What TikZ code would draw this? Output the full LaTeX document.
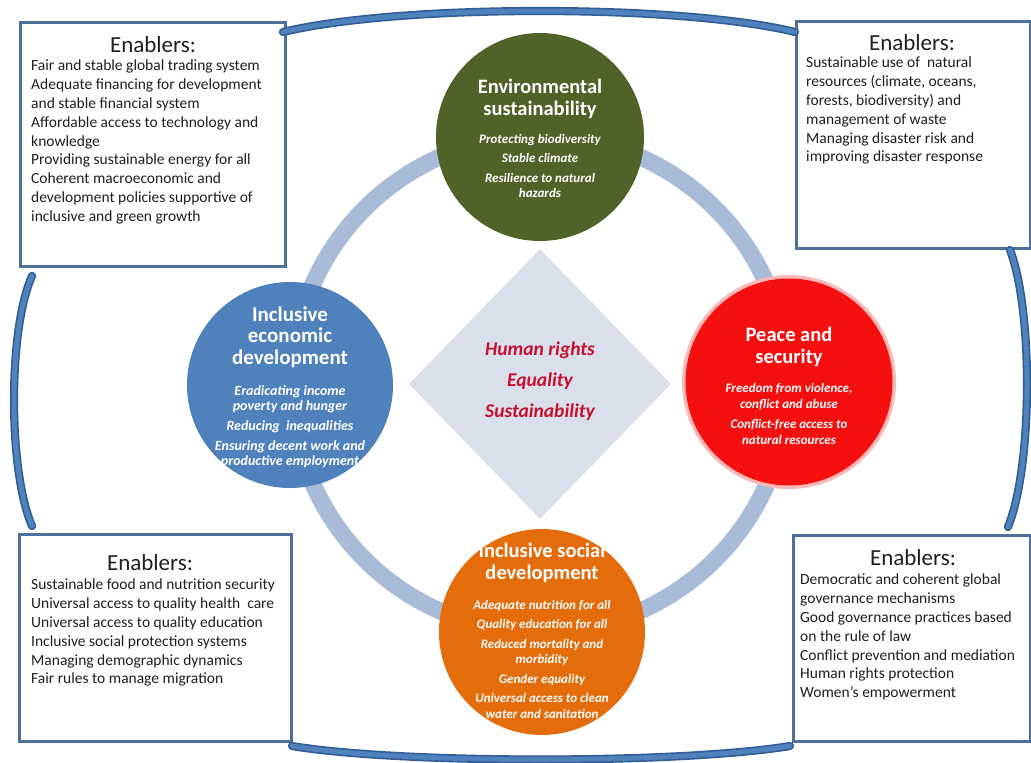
\documentclass[tikz,border=0pt]{standalone}
\usepackage{fontspec}
\setmainfont{Carlito}
\usetikzlibrary{shapes.geometric}
\definecolor{envgreen}{HTML}{4F6228}
\definecolor{econblue}{HTML}{4F81BD}
\definecolor{peacered}{HTML}{F50F0F}
\definecolor{socorange}{HTML}{E46C0A}
\definecolor{ringblue}{HTML}{A8BBD9}
\definecolor{diamfill}{HTML}{D9E0EC}
\definecolor{boxline}{HTML}{4D6F9C}
\definecolor{framedark}{HTML}{2F5C94}
\definecolor{framelight}{HTML}{4F81BD}
\definecolor{coretext}{HTML}{C8102E}
\definecolor{boxtext}{HTML}{1F1F1F}
\begin{document}
\begin{tikzpicture}[x=1pt,y=-1pt,
  enbox/.style={draw=boxline, line width=3pt, fill=white, inner sep=0pt, anchor=north west},
  entitle/.style={font=\fontsize{23}{26}\selectfont, text=boxtext, inner sep=0pt},
  entext/.style={font=\fontsize{15.5}{18.8}\selectfont, text=boxtext, align=left, inner sep=0pt, anchor=north west},
  pillar/.style={circle, inner sep=0pt, minimum size=#1},
  ptitle/.style={font=\fontsize{20.5}{22}\selectfont\bfseries, text=white, align=center, inner sep=0pt},
  pitems/.style={font=\fontsize{13}{15.5}\selectfont\bfseries\itshape, text=white, align=center, inner sep=0pt},
  bracket/.style={draw=framedark, double=framelight, double distance=5pt, line width=1.6pt, line cap=round},
]
\useasboundingbox (0,0) rectangle (1031,763);
\fill[white] (0,0) rectangle (1031,763);

% ring and core
\coordinate (hub) at (540,384);
\draw[ringblue, line width=17pt] (hub) circle[radius=248pt];
\node[diamond, fill=diamfill, minimum width=262pt, minimum height=270pt, inner sep=0pt] (core) at (hub) {};
\node[font=\fontsize{19.5}{31}\selectfont\bfseries\itshape, text=coretext, align=center, inner sep=0pt] (coretxt) at (540,381)
  {Human rights\\Equality\\Sustainability};

% pillars
\node[pillar=208pt, fill=envgreen] (env) at (540,137) {};
\node[ptitle] (envT) at (540,99) {Environmental\\sustainability};
\node[pitems] (envI) at (540,166) {Protecting biodiversity\\[4pt]Stable climate\\[4pt]Resilience to natural\\hazards};

\node[pillar=206pt, fill=econblue] (eco) at (290,385) {};
\node[ptitle, font=\fontsize{21}{21.5}\selectfont\bfseries] (ecoT) at (290,337) {Inclusive\\economic\\development};
\node[pitems, font=\fontsize{14}{15}\selectfont\bfseries\itshape] (ecoI) at (290,427) {Eradicating income\\poverty and hunger\\[5pt]Reducing\ \ inequalities\\[5pt]Ensuring decent work and\\productive employment};

\node[pillar=214pt, fill=peacered!30] (peaGlow) at (789,382) {};
\node[pillar=207pt, fill=peacered] (pea) at (789,382) {};
\node[ptitle] (peaT) at (789,347) {Peace and\\security};
\node[pitems] (peaI) at (789,414) {Freedom from violence,\\conflict and abuse\\[5pt]Conflict-free access to\\natural resources};

\node[pillar=206pt, fill=socorange] (soc) at (542,632) {};
\node[ptitle] (socT) at (542,563) {Inclusive social\\development};
\node[pitems] (socI) at (542,659) {Adequate nutrition for all\\[4pt]Quality education for all\\[4pt]Reduced mortality and\\morbidity\\[4pt]Gender equality\\[4pt]Universal access to clean\\water and sanitation};

% enabler boxes
\node[enbox, minimum width=265pt, minimum height=244pt] (tlb) at (19,21) {};
\node[entitle] (tlt) at (153,45) {Enablers:};
\node[entext] (tlx) at (31,60) {Fair and stable global trading system\\Adequate financing for development\\and stable financial system\\Affordable access to technology and\\knowledge\\Providing sustainable energy for all\\Coherent macroeconomic and\\development policies supportive of\\inclusive and green growth};

\node[enbox, minimum width=234pt, minimum height=227pt] (trb) at (795,20) {};
\node[entitle] (trt) at (912,43) {Enablers:};
\node[entext] (trx) at (806,57) {Sustainable use of\ \ natural\\resources (climate, oceans,\\forests, biodiversity) and\\management of waste\\Managing disaster risk and\\improving disaster response};

\node[enbox, minimum width=272pt, minimum height=207pt] (blb) at (18,533) {};
\node[entitle] (blt) at (150,563) {Enablers:};
\node[entext] (blx) at (31,579) {Sustainable food and nutrition security\\Universal access to quality health\ \ care\\Universal access to quality education\\Inclusive social protection systems\\Managing demographic dynamics\\Fair rules to manage migration};

\node[enbox, minimum width=237pt, minimum height=206pt] (brb) at (792,534) {};
\node[entitle] (brt) at (913,558) {Enablers:};
\node[entext] (brx) at (800,574) {Democratic and coherent global\\governance mechanisms\\Good governance practices based\\on the rule of law\\Conflict prevention and mediation\\Human rights protection\\Women’s empowerment};

% frame brackets
\coordinate (topL) at (283,32);
\coordinate (topR) at (795,32);
\coordinate (leftT) at (32,276);
\coordinate (leftB) at (32,526);
\coordinate (rightT) at (1010,250);
\coordinate (rightB) at (1008,527);
\coordinate (botL) at (292,746);
\coordinate (botR) at (790,746);
\draw[bracket] (topL) .. controls (400,4) and (680,4) .. (topR);
\draw[bracket] (leftT) .. controls (8,330) and (8,470) .. (leftB);
\draw[bracket] (rightT) .. controls (1033,310) and (1033,465) .. (rightB);
\draw[bracket] (botL) .. controls (400,764) and (680,764) .. (botR);
\end{tikzpicture}
\end{document}
